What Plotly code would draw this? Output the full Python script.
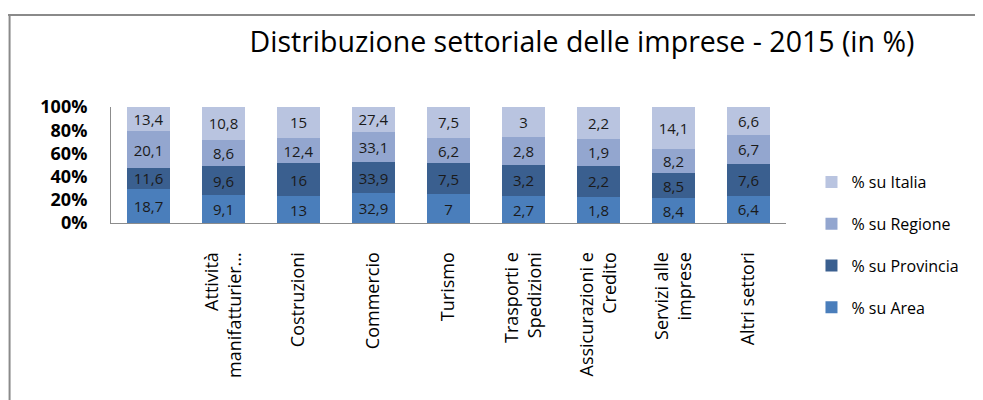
import plotly.graph_objects as go

categories = ["", "Attività<br>manifatturier...", "Costruzioni", "Commercio", "Turismo",
              "Trasporti e<br>Spedizioni", "Assicurazioni e<br>Credito", "Servizi alle<br>imprese",
              "Altri settori"]
area = [18.7, 9.1, 13, 32.9, 7, 2.7, 1.8, 8.4, 6.4]
provincia = [11.6, 9.6, 16, 33.9, 7.5, 3.2, 2.2, 8.5, 7.6]
regione = [20.1, 8.6, 12.4, 33.1, 6.2, 2.8, 1.9, 8.2, 6.7]
italia = [13.4, 10.8, 15, 27.4, 7.5, 3, 2.2, 14.1, 6.6]
series_names = ["% su Area", "% su Provincia", "% su Regione", "% su Italia"]
legend_ranks = [4, 3, 2, 1]
y_tick_vals = [0, 20, 40, 60, 80, 100]
y_tick_labels = ["0%", "20%", "40%", "60%", "80%", "100%"]
title_text = "Distribuzione settoriale delle imprese - 2015 (in %)"

colors = ["#4A7EBB", "#3A5F8F", "#93A6CF", "#B9C4E0"]
FONT = "Open Sans"

OFF = 8  # page body margin
W, H = 975, 392
ML, MT = 111 - OFF, 107 - OFF
PW, PH = 675.5, 116
MR = W - ML - PW
MB = H - MT - PH


def px_to_paper_x(px):
    return (px - OFF - ML) / PW


def px_to_paper_y(py):
    return (MT + PH - (py - OFF)) / PH


def fmt(v):
    return ("%g" % v).replace(".", ",")


xs = list(range(len(categories)))
fig = go.Figure()
for name, vals, col, rank in zip(series_names, [area, provincia, regione, italia], colors, legend_ranks):
    fig.add_trace(go.Bar(
        x=xs, y=vals, name=name, marker=dict(color=col, line=dict(width=0)),
        text=[fmt(v) for v in vals], texttemplate="%{text}",
        textposition="inside", insidetextanchor="middle", textangle=0,
        textfont=dict(family=FONT, size=15, color="#1a1a1a"),
        width=0.57, legendgroup=name, legendrank=rank, hoverinfo="skip",
    ))

fig.update_layout(
    width=W, height=H,
    margin=dict(l=ML, r=MR, t=MT, b=MB, pad=0, autoexpand=False),
    barmode="stack", barnorm="percent",
    paper_bgcolor="white", plot_bgcolor="white",
    font=dict(family=FONT, color="#000000"),
    title=dict(text=title_text, x=(582 - OFF) / W, xref="container", xanchor="center",
               y=1 - (42 - OFF) / H, yref="container", yanchor="middle",
               font=dict(family=FONT, size=28.5, color="#000000")),
    xaxis=dict(range=[-0.5, len(categories) - 0.5], tickvals=xs, ticktext=categories,
               tickangle=-90, showgrid=False, zeroline=False, automargin=False,
               showline=True, linecolor="#8c8c8c", linewidth=1,
               ticks="", ticklabelstandoff=21,
               tickfont=dict(family=FONT, size=18, color="#000000")),
    yaxis=dict(range=[0, 100], tickvals=y_tick_vals, ticktext=y_tick_labels,
               showgrid=False, zeroline=False, showline=True, linecolor="#8c8c8c",
               linewidth=1, ticks="", ticklabelstandoff=19, automargin=False,
               tickfont=dict(family=FONT, size=18, color="#000000", weight="bold")),
    legend=dict(x=px_to_paper_x(812), xanchor="left", y=px_to_paper_y(165), yanchor="top",
                traceorder="grouped", tracegroupgap=18, maxheight=400,
                font=dict(family=FONT, size=16, color="#000000"),
                bgcolor="rgba(0,0,0,0)"),
    uniformtext=dict(mode="show", minsize=15),
    shapes=[
        dict(type="line", xref="paper", yref="paper",
             x0=px_to_paper_x(8), x1=px_to_paper_x(990),
             y0=px_to_paper_y(15), y1=px_to_paper_y(15),
             line=dict(color="#8a8a8a", width=2)),
        dict(type="line", xref="paper", yref="paper",
             x0=px_to_paper_x(9.5), x1=px_to_paper_x(9.5),
             y0=px_to_paper_y(14), y1=px_to_paper_y(410),
             line=dict(color="#8a8a8a", width=2)),
    ],
)

fig.write_html("out.html")
